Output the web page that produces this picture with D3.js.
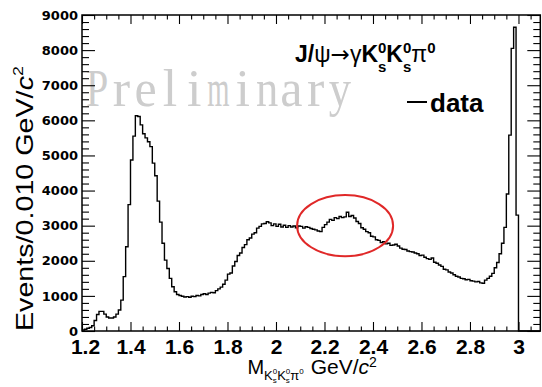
<!DOCTYPE html>
<html><head><meta charset="utf-8">
<script src="https://cdn.jsdelivr.net/npm/d3@7"></script>
<style>body{margin:0;background:#fff} svg{display:block}</style>
</head><body>
<svg id="c" width="542" height="387"></svg>
<script>
// ---------------- data ----------------
const binStart = 1.2;
const binWidth = 0.01;
// events per 0.010 GeV/c^2 bin, from 1.20 to 3.09
const counts = [
  30, 50, 80, 100, 150, 300, 470, 560, 560, 480,
  400, 370, 370, 400, 480, 600, 880, 1550, 2400, 3600,
  4870, 5550, 6130, 6110, 5870, 5620, 5500, 5390, 5250, 4780,
  4420, 3700, 3100, 2500, 2020, 1780, 1500, 1260, 1120, 1040,
  1010, 990, 970, 980, 960, 990, 980, 1010, 1000, 1040,
  1060, 1040, 1080, 1100, 1090, 1150, 1200, 1250, 1330, 1450,
  1620, 1650, 1850, 1980, 2150, 2220, 2380, 2460, 2600, 2650,
  2760, 2800, 2930, 2980, 3050, 3060, 3110, 3080, 3000, 3050,
  2980, 3040, 2960, 3010, 2950, 3000, 2960, 2990, 2940, 2990,
  2980, 2930, 2970, 2950, 2920, 2900, 2880, 2850, 2830, 2950,
  3030, 3100, 3180, 3150, 3230, 3200, 3260, 3230, 3250, 3380,
  3260, 3290, 3220, 3120, 3060, 2940, 2900, 2830, 2800, 2700,
  2680, 2600, 2580, 2520, 2540, 2480, 2500, 2440, 2450, 2470,
  2420, 2360, 2330, 2320, 2280, 2260, 2250, 2220, 2200, 2150,
  2160, 2100, 2060, 2040, 2080, 1960, 1930, 1880, 1840, 1760,
  1740, 1680, 1650, 1600, 1560, 1540, 1500, 1490, 1460, 1470,
  1430, 1420, 1400, 1410, 1370, 1360, 1450, 1500, 1560, 1640,
  1800, 1950, 2200, 2500, 2950, 3900, 5580, 8050, 8650, 3300,
  0, 0, 0, 0, 0, 0, 0, 0, 0
];
const xDomain = [1.2, 3.09];
const yDomain = [0, 9000];
const xTicks = [1.2, 1.4, 1.6, 1.8, 2.0, 2.2, 2.4, 2.6, 2.8, 3.0];
const xTickLabels = ["1.2", "1.4", "1.6", "1.8", "2", "2.2", "2.4", "2.6", "2.8", "3"];
const yTicks = [0, 1000, 2000, 3000, 4000, 5000, 6000, 7000, 8000, 9000];
const yTickLabels = ["0", "1000", "2000", "3000", "4000", "5000", "6000", "7000", "8000", "9000"];
const xMinorStep = 0.05;
const yMinorStep = 200;
// highlighted region (ellipse) in data coordinates
const highlightCenter = [2.285, 3000];
const highlightRadius = [0.198, 870];
const watermark = "Preliminary";

// ---------------- layout ----------------
const svg = d3.select("#c");
const L = 82, R = 540.3, T = 15, B = 331;
const x = d3.scaleLinear().domain(xDomain).range([L, R]);
const y = d3.scaleLinear().domain(yDomain).range([B, T]);
const SANS = "'Liberation Sans', Arial, Helvetica, sans-serif";

function rich(g, x0, y0, pieces) {
  let cx = x0, lastX = x0, lastEnd = x0;
  pieces.forEach(p => {
    const px = p.stack ? lastX : cx;
    const t = g.append("text").attr("x", px).attr("y", y0 + (p.dy || 0))
      .attr("font-family", p.family || SANS)
      .attr("font-size", p.size).attr("font-weight", p.weight || "normal")
      .attr("font-style", p.style || "normal").attr("fill", "#000").text(p.t);
    const w = t.node().getComputedTextLength();
    if (p.stack) { cx = Math.max(lastEnd, px + w); lastEnd = cx; }
    else { lastX = px; lastEnd = px + w; cx = px + w + (p.gap || 0); }
  });
  return cx - x0;
}

// watermark: monospaced cells, serif glyphs
const wmG = svg.append("g");
const cell = 267 / watermark.length;
watermark.split("").forEach((ch, i) => {
  const cxm = 85 + (i + 0.5) * cell;
  const t = wmG.append("text")
    .attr("font-family", "'Liberation Serif', 'Times New Roman', serif")
    .attr("font-size", 52).attr("text-anchor", "middle")
    .attr("fill", "#cdcdcd").text(ch);
  const w = t.node().getComputedTextLength();
  const s = Math.min(1, (cell - 2) / w);
  t.attr("transform", `translate(${cxm},106) scale(${s},1)`);
});

// minor ticks
const xMinor = d3.range(xDomain[0], xDomain[1] + 1e-9, xMinorStep)
  .filter(v => !xTicks.some(t => Math.abs(t - v) < 1e-6));
const yMinor = d3.range(yDomain[0], yDomain[1] + 1e-9, yMinorStep)
  .filter(v => !yTicks.some(t => Math.abs(t - v) < 1e-6));

function styleAxis(g) {
  g.select(".domain").remove();
  g.selectAll(".tick line").attr("stroke", "#000").attr("stroke-width", 1.1);
}

// bottom
svg.append("g").attr("transform", `translate(0,${B})`)
  .call(d3.axisBottom(x).tickValues(xTicks).tickFormat((d, i) => xTickLabels[i])
    .tickSizeInner(-9).tickSizeOuter(0).tickPadding(8))
  .call(styleAxis)
  .call(g => g.selectAll("text").attr("font-family", SANS).attr("font-weight", "bold")
    .attr("font-size", 21).attr("fill", "#000")
    .attr("dx", (d, i) => i === 0 ? 3 : 0));
svg.append("g").attr("transform", `translate(0,${B})`)
  .call(d3.axisBottom(x).tickValues(xMinor).tickFormat("").tickSizeInner(-4.5).tickSizeOuter(0))
  .call(styleAxis);
// top
svg.append("g").attr("transform", `translate(0,${T})`)
  .call(d3.axisTop(x).tickValues(xTicks).tickFormat("").tickSizeInner(-9).tickSizeOuter(0))
  .call(styleAxis);
svg.append("g").attr("transform", `translate(0,${T})`)
  .call(d3.axisTop(x).tickValues(xMinor).tickFormat("").tickSizeInner(-4.5).tickSizeOuter(0))
  .call(styleAxis);
// left
svg.append("g").attr("transform", `translate(${L},0)`)
  .call(d3.axisLeft(y).tickValues(yTicks).tickFormat((d, i) => yTickLabels[i])
    .tickSizeInner(-13).tickSizeOuter(0).tickPadding(4))
  .call(styleAxis)
  .call(g => g.selectAll("text").attr("font-family", "'DejaVu Sans', sans-serif")
    .attr("font-weight", "bold").attr("font-size", 13).attr("fill", "#000"));
svg.append("g").attr("transform", `translate(${L},0)`)
  .call(d3.axisLeft(y).tickValues(yMinor).tickFormat("").tickSizeInner(-7).tickSizeOuter(0))
  .call(styleAxis);
// right
svg.append("g").attr("transform", `translate(${R},0)`)
  .call(d3.axisRight(y).tickValues(yTicks).tickFormat("").tickSizeInner(-13).tickSizeOuter(0))
  .call(styleAxis);
svg.append("g").attr("transform", `translate(${R},0)`)
  .call(d3.axisRight(y).tickValues(yMinor).tickFormat("").tickSizeInner(-7).tickSizeOuter(0))
  .call(styleAxis);

// histogram
const steps = counts.map((v, i) => [binStart + i * binWidth, v]);
steps.push([binStart + counts.length * binWidth, counts[counts.length - 1]]);
const line = d3.line().x(d => x(d[0])).y(d => y(d[1])).curve(d3.curveStepAfter);
svg.append("path").datum(steps).attr("d", line)
  .attr("fill", "none").attr("stroke", "#000").attr("stroke-width", 1.4);

// frame
svg.append("rect").attr("x", L).attr("y", T).attr("width", R - L).attr("height", B - T)
  .attr("fill", "none").attr("stroke", "#000").attr("stroke-width", 1.5);

// highlight ellipse
svg.append("ellipse")
  .attr("cx", x(highlightCenter[0])).attr("cy", y(highlightCenter[1]))
  .attr("rx", x(highlightCenter[0] + highlightRadius[0]) - x(highlightCenter[0]))
  .attr("ry", y(highlightCenter[1]) - y(highlightCenter[1] + highlightRadius[1]))
  .attr("fill", "none").attr("stroke", "#e02828").attr("stroke-width", 2);

// title: J/psi -> gamma Ks Ks pi0
const tg = svg.append("g");
rich(tg, 295, 62, [
  { t: "J/", size: 23, weight: "bold" },
  { t: "ψ", size: 23 },
  { t: "→", size: 23, family: "'DejaVu Sans', sans-serif" },
  { t: "γ", size: 23 },
  { t: "K", size: 23, weight: "bold" },
  { t: "0", size: 15, weight: "bold", dy: -9 },
  { t: "s", size: 15, weight: "bold", dy: 10, stack: true },
  { t: "K", size: 23, weight: "bold" },
  { t: "0", size: 15, weight: "bold", dy: -9 },
  { t: "s", size: 15, weight: "bold", dy: 10, stack: true },
  { t: "π", size: 23 },
  { t: "0", size: 15, weight: "bold", dy: -9 }
]);

// legend
svg.append("line").attr("x1", 407).attr("x2", 427).attr("y1", 102).attr("y2", 102)
  .attr("stroke", "#000").attr("stroke-width", 2);
svg.append("text").attr("x", 430).attr("y", 112)
  .attr("font-family", SANS).attr("font-weight", "bold").attr("font-size", 26)
  .attr("fill", "#000").text("data");

// x title
const xt = svg.append("g");
const xtw = rich(xt, 0, 374, [
  { t: "M", size: 20 },
  { t: "K", size: 13, dy: 6 },
  { t: "0", size: 8, dy: 0 },
  { t: "s", size: 8, dy: 9, stack: true },
  { t: "K", size: 13, dy: 6 },
  { t: "0", size: 8, dy: 0 },
  { t: "s", size: 8, dy: 9, stack: true },
  { t: "π", size: 13, dy: 6 },
  { t: "0", size: 8, dy: 0, gap: 7 },
  { t: "GeV/", size: 21 },
  { t: "c", size: 21, style: "italic" },
  { t: "2", size: 14, dy: -7 }
]);
xt.attr("transform", `translate(${(L + R) / 2 - xtw / 2 + 1},0)`);

// y title (fit along its length to span the axis like the reference)
const yt = svg.append("g");
const ytw = rich(yt, 0, 0, [
  { t: "Events/0.010 GeV/", size: 24 },
  { t: "c", size: 24, style: "italic" },
  { t: "2", size: 15, dy: -10 }
]);
yt.attr("transform", `translate(33,331) rotate(-90) scale(${265 / ytw},1)`);
</script>
</body></html>
